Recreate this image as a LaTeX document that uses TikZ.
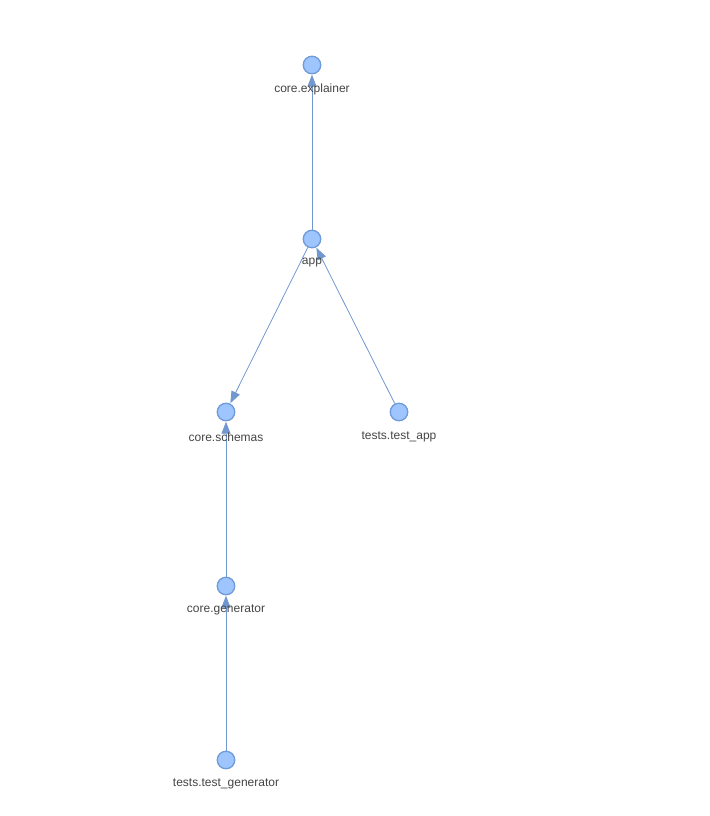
\documentclass[tikz,border=0pt]{standalone}
\usepackage{fontspec}
\setmainfont{Liberation Sans}
\usetikzlibrary{arrows.meta}
\definecolor{nfill}{HTML}{9EC5FE}
\definecolor{nborder}{HTML}{6F9BDB}
\definecolor{edge}{HTML}{7197D0}
\definecolor{txt}{HTML}{444444}
\begin{document}
\begin{tikzpicture}[x=1pt,y=-1pt,
  dot/.style={circle,fill=nfill,draw=nborder,line width=1.3pt,minimum size=17.5pt,inner sep=0pt},
  lbl/.style={text=txt,font=\fontsize{12}{14}\selectfont,inner sep=0pt},
  conn/.style={draw=edge,line width=0.8pt,-{Triangle[length=12pt,width=9pt]},shorten >=0.3pt}]
\useasboundingbox (0,0) rectangle (709,816);
\node[dot] (ex) at (312,65) {};
\node[dot] (app) at (312,239) {};
\node[dot] (sc) at (226,412) {};
\node[dot] (ta) at (399,412) {};
\node[dot] (ge) at (226,586) {};
\node[dot] (tg) at (226,760) {};
\draw[conn] (app) -- (ex);
\draw[conn] (app) -- (sc);
\draw[conn] (ta) -- (app);
\draw[conn] (ge) -- (sc);
\draw[conn] (tg) -- (ge);
\node[lbl] (lex) at (312,89) {core.explainer};
\node[lbl] (lapp) at (312,263) {app};
\node[lbl] (lsc) at (226,437) {core.schemas};
\node[lbl] (lta) at (399,437) {tests.test\_app};
\node[lbl] (lge) at (226,610) {core.generator};
\node[lbl] (ltg) at (226,784) {tests.test\_generator};
\end{tikzpicture}
\end{document}
